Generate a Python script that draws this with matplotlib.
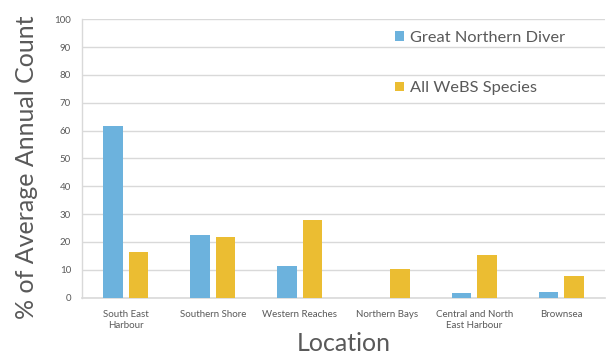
import matplotlib
matplotlib.use('Agg')
import matplotlib.pyplot as plt
import numpy as np

# data
locations = ['South East\nHarbour', 'Southern Shore', 'Western Reaches',
             'Northern Bays', 'Central and North\nEast Harbour', 'Brownsea']
diver = [61.5, 22.5, 11.5, 0.0, 1.7, 2.0]
all_webs = [16.4, 21.8, 28.0, 10.2, 15.2, 7.8]
yticks = list(range(0, 101, 10))

blue = '#6CB2DD'
yellow = '#EBBD32'
grey = '#595959'

plt.rcParams['font.family'] = ['Lato', 'DejaVu Sans']

fig, ax = plt.subplots(figsize=(6.08, 3.56), dpi=100)
fig.subplots_adjust(left=0.135, right=0.995, top=0.946, bottom=0.164)

x = np.arange(len(locations))
w = 0.224
off = 0.146
ax.bar(x - off, diver, w, color=blue, label='Great Northern Diver', zorder=3)
ax.bar(x + off, all_webs, w, color=yellow, label='All WeBS Species', zorder=3)

ax.set_xlim(-0.5, len(locations) - 0.5)
ax.set_ylim(0, 100)
ax.set_yticks(yticks)
ax.set_xticks(x)
ax.set_xticklabels(locations, fontsize=7, color=grey, linespacing=1.3)
ax.tick_params(axis='y', labelsize=7, colors=grey, length=0, pad=8)
ax.tick_params(axis='x', length=0, pad=9)
ax.grid(axis='y', color='#d9d9d9', linewidth=1, zorder=0)

for s in ['top', 'right']:
    ax.spines[s].set_visible(False)
ax.spines['left'].set_color('#d9d9d9')
ax.spines['bottom'].set_color('#d9d9d9')
ax.spines['left'].set_linewidth(1)
ax.spines['bottom'].set_linewidth(1.2)

ax.set_ylabel('% of Average Annual Count', fontsize=18, color=grey)
ax.yaxis.set_label_coords(-0.085, 0.47)
ax.set_xlabel('Location', fontsize=18, color=grey)
ax.xaxis.set_label_coords(0.5, -0.125)

leg = ax.legend(loc='upper left', bbox_to_anchor=(0.57, 1.01), frameon=False,
                fontsize=11.8, labelspacing=2.2, handlelength=0.55, handleheight=0.55,
                handletextpad=0.4, labelcolor=grey)

fig.savefig('out.png', dpi=100)
